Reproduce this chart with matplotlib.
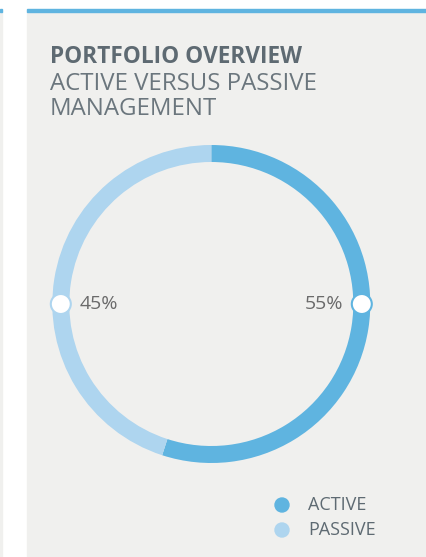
import matplotlib.pyplot as plt
from matplotlib.patches import Rectangle, Circle

# data
labels = ["ACTIVE", "PASSIVE"]
shares = [55, 45]
colors = ["#5fb4e0", "#aed5ef"]
title = "PORTFOLIO OVERVIEW"
subtitle = ["ACTIVE VERSUS PASSIVE", "MANAGEMENT"]

W, H = 427, 557
fig = plt.figure(figsize=(W / 100, H / 100), dpi=100)
fig.patch.set_facecolor("white")
ax = fig.add_axes([0, 0, 1, 1])

def py(y):
    # pixel row from top -> data y
    return H - y

# panel + top rule
ax.add_patch(Rectangle((27, 0), W - 27, py(11), color="#f0f0ee", zorder=0))
ax.add_patch(Rectangle((27, py(12)), W - 27, 3, color="#5fb4e0", zorder=1))
ax.add_patch(Rectangle((0, 0), 2, py(11), color="#f0f0ee", zorder=0))
ax.add_patch(Rectangle((0, py(12)), 2, 3, color="#5fb4e0", zorder=1))

tc = "#5e6a72"
fam = "Open Sans"
ax.text(50, py(63), title, fontsize=16.3, fontweight="bold", color=tc,
        family=fam, va="baseline")
ax.text(50, py(90), subtitle[0], fontsize=17.3, fontweight="normal",
        color="#6b767d", family=fam, va="baseline")
ax.text(50, py(115), subtitle[1], fontsize=17.3, fontweight="normal",
        color="#6b767d", family=fam, va="baseline")

# ring
cx, cy, r, w = 211.3, py(304), 159, 17
ax.pie(shares, colors=colors, startangle=90, counterclock=False,
       radius=r, center=(cx, cy), wedgeprops=dict(width=w, linewidth=0),
       frame=True)
ax.set_xlim(0, W)
ax.set_ylim(0, H)
ax.set_aspect("auto")
ax.axis("off")

rm = r - w / 2
ax.add_patch(Circle((cx + rm, cy), 10, facecolor="white", edgecolor=colors[0],
                    linewidth=1.5, zorder=5))
ax.add_patch(Circle((cx - rm, cy), 10, facecolor="white", edgecolor=colors[1],
                    linewidth=1.5, zorder=5))
ax.text(cx + rm - 19, cy, f"{shares[0]}%", fontsize=14, color="#6a6a6a",
        family=fam, ha="right", va="center")
ax.text(cx - rm + 19, cy, f"{shares[1]}%", fontsize=14, color="#6a6a6a",
        family=fam, ha="left", va="center")

# legend
for i, (lab, col) in enumerate(zip(labels, colors)):
    yy = py(505 + 25 * i)
    ax.add_patch(Circle((282, yy), 7, color=col, zorder=3))
    ax.text(308, yy, lab, fontsize=13, color=tc, family=fam,
            va="center", ha="left")

fig.savefig("out.png", dpi=100, facecolor=fig.get_facecolor())
